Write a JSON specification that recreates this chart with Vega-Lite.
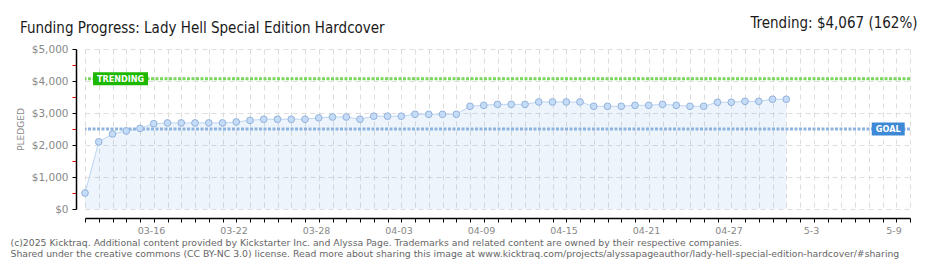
{
  "$schema": "https://vega.github.io/schema/vega-lite/v6.json",
  "width": 825,
  "height": 160,
  "autosize": {"type": "none"},
  "padding": {"left": 85, "top": 49, "right": 30, "bottom": 61},
  "background": "#ffffff",
  "config": {"view": {"stroke": null}},
  "title": {
    "text": "Funding Progress: Lady Hell Special Edition Hardcover",
    "anchor": "start",
    "frame": "group",
    "dx": -65,
    "dy": 25,
    "font": "DejaVu Sans Condensed",
    "fontSize": 15,
    "fontWeight": "normal",
    "color": "#1a1a1a"
  },
  "datasets": {
    "pledged": [
      {"date": "2025-03-12", "value": 500},
      {"date": "2025-03-13", "value": 2100},
      {"date": "2025-03-14", "value": 2345},
      {"date": "2025-03-15", "value": 2440},
      {"date": "2025-03-16", "value": 2520},
      {"date": "2025-03-17", "value": 2665},
      {"date": "2025-03-18", "value": 2690},
      {"date": "2025-03-19", "value": 2690},
      {"date": "2025-03-20", "value": 2690},
      {"date": "2025-03-21", "value": 2690},
      {"date": "2025-03-22", "value": 2690},
      {"date": "2025-03-23", "value": 2720},
      {"date": "2025-03-24", "value": 2770},
      {"date": "2025-03-25", "value": 2805},
      {"date": "2025-03-26", "value": 2805},
      {"date": "2025-03-27", "value": 2805},
      {"date": "2025-03-28", "value": 2805},
      {"date": "2025-03-29", "value": 2850},
      {"date": "2025-03-30", "value": 2875},
      {"date": "2025-03-31", "value": 2875},
      {"date": "2025-04-01", "value": 2805},
      {"date": "2025-04-02", "value": 2900},
      {"date": "2025-04-03", "value": 2900},
      {"date": "2025-04-04", "value": 2900},
      {"date": "2025-04-05", "value": 2960},
      {"date": "2025-04-06", "value": 2960},
      {"date": "2025-04-07", "value": 2960},
      {"date": "2025-04-08", "value": 2960},
      {"date": "2025-04-09", "value": 3210},
      {"date": "2025-04-10", "value": 3240},
      {"date": "2025-04-11", "value": 3270},
      {"date": "2025-04-12", "value": 3270},
      {"date": "2025-04-13", "value": 3270},
      {"date": "2025-04-14", "value": 3345},
      {"date": "2025-04-15", "value": 3345},
      {"date": "2025-04-16", "value": 3345},
      {"date": "2025-04-17", "value": 3345},
      {"date": "2025-04-18", "value": 3210},
      {"date": "2025-04-19", "value": 3210},
      {"date": "2025-04-20", "value": 3210},
      {"date": "2025-04-21", "value": 3240},
      {"date": "2025-04-22", "value": 3240},
      {"date": "2025-04-23", "value": 3270},
      {"date": "2025-04-24", "value": 3240},
      {"date": "2025-04-25", "value": 3210},
      {"date": "2025-04-26", "value": 3210},
      {"date": "2025-04-27", "value": 3335},
      {"date": "2025-04-28", "value": 3335},
      {"date": "2025-04-29", "value": 3365},
      {"date": "2025-04-30", "value": 3365},
      {"date": "2025-05-01", "value": 3430},
      {"date": "2025-05-02", "value": 3430}
    ],
    "refs": [
      {"label": "TRENDING", "value": 4067, "date": "2025-03-14T14:00:00Z"},
      {"label": "GOAL", "value": 2500, "date": "2025-05-09T10:00:00Z"}
    ]
  },
  "resolve": {"axis": {"x": "independent"}},
  "encoding": {
    "y": {
      "field": "value",
      "type": "quantitative",
      "scale": {"domain": [0, 5000], "nice": false},
      "axis": {
        "offset": 9,
        "values": [0, 500, 1000, 1500, 2000, 2500, 3000, 3500, 4000, 4500, 5000],
        "labelExpr": "datum.value % 1000 === 0 ? '$' + format(datum.value, ',') : ''",
        "labelOverlap": false,
        "labelFont": "DejaVu Sans",
        "labelFontSize": 10.5,
        "labelColor": "#888888",
        "labelPadding": 4,
        "tickSize": 4,
        "tickColor": {"condition": {"test": "datum.value % 1000 === 0", "value": "#000000"}, "value": "#ee0000"},
        "domainColor": "#000000",
        "domainWidth": 1.5,
        "grid": true,
        "gridColor": "#dddddd",
        "gridDash": [5, 4],
        "gridOpacity": {"condition": {"test": "datum.value % 1000 === 0", "value": 1}, "value": 0},
        "title": "PLEDGED",
        "titleFont": "DejaVu Sans",
        "titleFontSize": 9,
        "titleFontWeight": "normal",
        "titleColor": "#888888",
        "titlePadding": 6
      }
    }
  },
  "layer": [
    {
      "data": {"name": "pledged"},
      "mark": {"type": "area", "color": "#3d89d6", "opacity": 0.09},
      "encoding": {
        "x": {
          "field": "date",
          "type": "temporal",
          "scale": {"type": "utc", "domain": ["2025-03-12T00:00:00Z", "2025-05-11T00:00:00Z"], "nice": false},
          "axis": {
            "orient": "bottom",
            "offset": 9,
            "tickCount": {"interval": "day", "step": 1},
            "labelExpr": "round((datum.value - utc(2025,2,16))/864e5) % 6 === 0 ? (utcmonth(datum.value) === 4 ? utcFormat(datum.value, '%-m-%-d') : utcFormat(datum.value, '%m-%d')) : ''",
            "labelOverlap": false,
            "labelBound": false,
            "labelFlush": false,
            "labelOffset": 11,
            "labelFont": "DejaVu Sans",
            "labelFontSize": 9.5,
            "labelColor": "#888888",
            "labelPadding": 3,
            "tickColor": "#000000",
            "tickSize": 4,
            "domainColor": "#000000",
            "domainWidth": 1.5,
            "grid": true,
            "gridColor": "#dddddd",
            "gridDash": [5, 4],
            "title": [
              "(c)2025 Kicktraq. Additional content provided by Kickstarter Inc. and Alyssa Page. Trademarks and related content are owned by their respective companies.",
              "Shared under the creative commons (CC BY-NC 3.0) license. Read more about sharing this image at www.kicktraq.com/projects/alyssapageauthor/lady-hell-special-edition-hardcover/#sharing"
            ],
            "titleX": -75,
            "titleY": 20,
            "titleAlign": "left",
            "titleBaseline": "top",
            "titleFont": "DejaVu Sans",
            "titleFontSize": 9.3,
            "titleFontWeight": "normal",
            "titleColor": "#666666",
            "titleLineHeight": 11
          }
        }
      }
    },
    {
      "data": {"name": "pledged"},
      "mark": {"type": "line", "color": "#bcd6f2", "strokeWidth": 1},
      "encoding": {
        "x": {"field": "date", "type": "temporal", "axis": null}
      }
    },
    {
      "data": {"name": "refs"},
      "mark": {"type": "rule", "strokeWidth": 3, "strokeDash": [3, 1.5]},
      "encoding": {
        "color": {"condition": {"test": "datum.label === 'GOAL'", "value": "#8fb3df"}, "value": "#78d85a"}
      }
    },
    {
      "data": {"name": "pledged"},
      "mark": {"type": "point", "filled": true, "size": 45, "fill": "#c4dcf8", "stroke": "#93b2da", "strokeWidth": 1, "opacity": 1},
      "encoding": {
        "x": {"field": "date", "type": "temporal", "axis": null}
      }
    },
    {
      "data": {"name": "refs"},
      "mark": {"type": "point", "filled": true, "size": 3025, "opacity": 1, "strokeWidth": 0},
      "encoding": {
        "x": {"field": "date", "type": "temporal", "axis": null},
        "shape": {
          "field": "label",
          "type": "nominal",
          "scale": {"domain": ["TRENDING", "GOAL"], "range": ["M-1,-0.236H1V0.236H-1Z", "M-0.6,-0.236H0.6V0.236H-0.6Z"]},
          "legend": null
        },
        "fill": {"condition": {"test": "datum.label === 'GOAL'", "value": "#3d89d6"}, "value": "#1db800"}
      }
    },
    {
      "data": {"name": "refs"},
      "mark": {"type": "text", "color": "#ffffff", "font": "DejaVu Sans Condensed", "fontSize": 9, "fontWeight": "bold", "align": "center", "baseline": "middle"},
      "encoding": {
        "x": {
          "field": "date",
          "type": "temporal",
          "axis": {
            "orient": "top",
            "labels": false,
            "ticks": false,
            "domain": false,
            "grid": false,
            "title": "Trending: $4,067 (162%)",
            "titleX": 832,
            "titleY": -27,
            "titleAlign": "right",
            "titleBaseline": "middle",
            "titleFont": "DejaVu Sans Condensed",
            "titleFontSize": 15,
            "titleFontWeight": "normal",
            "titleColor": "#1a1a1a"
          }
        },
        "text": {"field": "label"}
      }
    }
  ]
}
